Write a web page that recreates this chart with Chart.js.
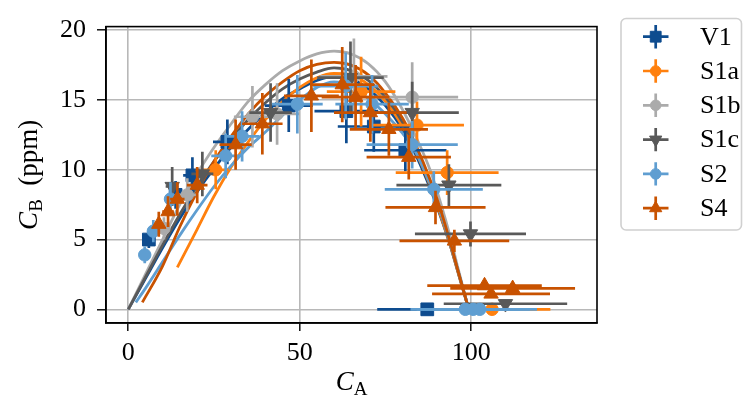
<!DOCTYPE html>
<html>
<head>
<meta charset="utf-8">
<script src="https://cdn.jsdelivr.net/npm/chart.js@4.4.0/dist/chart.umd.min.js"></script>
<style>
  html, body { margin: 0; padding: 0; background: #fff; }
</style>
</head>
<body>
<canvas id="chart" width="744" height="403"></canvas>
<script>
// measured points: C_A, C_B and their error half-widths
const v1X = [6.0, 13.8, 18.7, 28.9, 46.8, 63.6, 71.6, 80.8, 87.2];
const v1Y = [5.0, 8.2, 9.6, 12.0, 14.6, 14.2, 13.1, 11.4, 0.0];
const v1Xerr = [0.9, 2.0, 2.7, 4.2, 7.0, 9.3, 10.5, 12.0, 14.6];
const v1Yerr = [0.6, 1.0, 1.3, 1.6, 1.9, 2.3, 1.8, 1.5, 0.0];

const s1aX = [25.5, 67.9, 84.2, 93.0, 106.1];
const s1aY = [10.0, 15.6, 13.2, 9.8, 0.0];
const s1aXerr = [3.8, 10.0, 13.7, 15.0, 17.0];
const s1aYerr = [1.4, 2.5, 1.7, 1.6, 0.0];

const s1bX = [10.4, 17.2, 36.2, 43.4, 65.8, 82.8];
const s1bY = [5.8, 8.2, 13.8, 14.0, 16.7, 15.2];
const s1bXerr = [1.6, 2.6, 5.4, 6.5, 9.8, 13.4];
const s1bYerr = [0.8, 1.2, 2.2, 2.2, 2.7, 2.5];

const s1cX = [12.8, 21.6, 41.5, 64.8, 82.8, 93.5, 99.8, 110.0];
const s1cY = [8.8, 9.7, 14.1, 16.6, 14.1, 8.9, 5.4, 0.4];
const s1cXerr = [1.9, 3.2, 6.2, 9.7, 13.6, 15.3, 16.2, 18.0];
const s1cYerr = [1.4, 1.6, 2.1, 2.6, 2.2, 1.5, 0.9, 0.2];

const s2X = [4.8, 7.3, 12.3, 28.4, 33.2, 49.3, 63.4, 71.1, 82.8, 89.1, 98.3, 100.6, 102.5];
const s2Y = [3.9, 5.6, 7.9, 11.0, 12.4, 14.7, 16.0, 14.7, 11.8, 8.6, 0.0, 0.0, 0.0];
const s2Xerr = [0.7, 1.1, 1.8, 4.2, 5.0, 7.4, 9.5, 10.7, 13.3, 14.3, 16.0, 16.5, 16.7];
const s2Yerr = [0.6, 0.8, 1.2, 1.6, 1.8, 2.1, 2.4, 2.1, 1.7, 1.3, 0.0, 0.0, 0.0];

const s4X = [8.9, 11.6, 14.3, 20.1, 31.3, 39.1, 53.4, 62.4, 66.3, 70.6, 76.0, 81.8, 89.6, 95.1, 103.9, 105.8, 112.1];
const s4Y = [6.1, 7.0, 7.9, 8.9, 11.8, 13.3, 15.3, 16.1, 15.2, 14.1, 12.9, 10.9, 7.3, 4.9, 1.7, 1.1, 1.5];
const s4Xerr = [1.3, 1.7, 2.1, 3.0, 4.7, 5.9, 8.0, 9.4, 9.9, 10.6, 11.4, 12.3, 14.6, 16.0, 16.7, 17.2, 18.2];
const s4Yerr = [0.9, 1.1, 1.2, 1.3, 1.8, 2.2, 2.6, 2.7, 2.3, 2.1, 1.9, 1.6, 1.2, 0.8, 0.3, 0.2, 0.3];

// fitted model curves
const v1CurveX = [0, 5, 10, 15, 20, 25, 30, 35, 40, 45, 50, 55, 60, 65, 70, 75, 80, 84, 88, 91, 94, 96, 99.3];
const v1CurveY = [0, 2.2, 4.4, 6.5, 8.4, 10.1, 11.6, 12.9, 14.1, 15.1, 15.8, 16.4, 16.7, 16.5, 15.8, 14.6, 12.9, 11.0, 8.7, 6.7, 4.5, 2.8, 0];
const s1aCurveX = [14.3, 20, 25, 30, 35, 40, 45, 50, 55, 60, 65, 70, 75, 80, 84, 88, 91, 94, 96, 99.3];
const s1aCurveY = [3.0, 5.7, 8.1, 10.2, 12.0, 13.6, 14.9, 15.9, 16.6, 16.9, 16.8, 16.1, 14.9, 13.1, 11.2, 8.9, 6.8, 4.5, 2.8, 0];
const s1bCurveX = [0, 5, 10, 15, 20, 25, 30, 35, 40, 45, 50, 55, 60, 65, 70, 75, 80, 84, 88, 91, 94, 96, 99.3];
const s1bCurveY = [0, 2.5, 5.0, 7.5, 9.7, 11.6, 13.3, 14.9, 16.1, 17.1, 17.8, 18.3, 18.5, 18.3, 17.6, 16.3, 14.3, 12.3, 10.0, 7.7, 5.1, 3.1, 0];
const s1cCurveX = [0, 5, 10, 15, 20, 25, 30, 35, 40, 45, 50, 55, 60, 65, 70, 75, 80, 84, 88, 91, 94, 96, 99.3];
const s1cCurveY = [0, 2.3, 4.6, 6.8, 8.8, 10.6, 12.2, 13.6, 14.8, 15.8, 16.5, 17.0, 17.3, 17.1, 16.4, 15.2, 13.4, 11.4, 9.1, 7.0, 4.6, 2.9, 0];
const s2CurveX = [2.2, 5, 10, 15, 20, 25, 30, 35, 40, 45, 50, 55, 60, 65, 70, 75, 80, 84, 88, 91, 94, 96, 99.3];
const s2CurveY = [0.5, 1.5, 3.4, 5.3, 7.1, 8.8, 10.3, 11.6, 12.7, 13.9, 15.0, 15.9, 16.3, 16.0, 15.1, 14.0, 12.6, 11.2, 9.0, 7.0, 4.6, 2.9, 0];
const s4CurveX = [4.1, 10, 15, 20, 25, 30, 35, 40, 45, 50, 55, 60, 65, 70, 75, 80, 84, 88, 91, 94, 96, 99.3];
const s4CurveY = [0.5, 3.1, 5.9, 8.4, 10.6, 12.4, 14.0, 15.3, 16.3, 17.1, 17.55, 17.7, 17.5, 16.8, 15.5, 13.7, 11.7, 9.3, 7.2, 4.7, 2.9, 0];

const xTicks = [0, 50, 100];
const yTicks = [0, 5, 10, 15, 20];

const FONT = "'Liberation Serif', 'DejaVu Serif', serif";

const series = [
  { label: 'V1',  color: '#0e4c8f', style: 'rect',     radius: 9,   rot: 0,   x: v1X,  y: v1Y,  xe: v1Xerr,  ye: v1Yerr,  cx: v1CurveX,  cy: v1CurveY },
  { label: 'S1a', color: '#ff800e', style: 'circle',   radius: 6.2, rot: 0,   x: s1aX, y: s1aY, xe: s1aXerr, ye: s1aYerr, cx: s1aCurveX, cy: s1aCurveY },
  { label: 'S1b', color: '#ababab', style: 'circle',   radius: 6.2, rot: 0,   x: s1bX, y: s1bY, xe: s1bXerr, ye: s1bYerr, cx: s1bCurveX, cy: s1bCurveY },
  { label: 'S1c', color: '#595959', style: 'triangle', radius: 8.3, rot: 180, x: s1cX, y: s1cY, xe: s1cXerr, ye: s1cYerr, cx: s1cCurveX, cy: s1cCurveY },
  { label: 'S2',  color: '#5f9ed1', style: 'circle',   radius: 6.2, rot: 0,   x: s2X,  y: s2Y,  xe: s2Xerr,  ye: s2Yerr,  cx: s2CurveX,  cy: s2CurveY },
  { label: 'S4',  color: '#c85200', style: 'triangle', radius: 8.3, rot: 0,   x: s4X,  y: s4Y,  xe: s4Xerr,  ye: s4Yerr,  cx: s4CurveX,  cy: s4CurveY },
];

const datasets = [];
series.forEach((s, i) => {
  // curves go underneath the markers
  datasets.push({
    label: s.label + ' fit',
    data: s.cx.map((v, k) => ({ x: v, y: s.cy[k] })),
    showLine: true,
    borderColor: s.color,
    borderWidth: 2.8,
    pointRadius: 0,
    cubicInterpolationMode: 'monotone',
    order: 20 - i,
  });
});
series.forEach((s, i) => {
  datasets.push({
    label: s.label,
    data: s.x.map((v, k) => ({ x: v, y: s.y[k] })),
    errX: s.xe,
    errY: s.ye,
    pointStyle: s.style,
    rotation: s.rot,
    pointRadius: s.radius,
    pointHoverRadius: s.radius,
    backgroundColor: s.color,
    borderColor: s.color,
    borderWidth: 1,
    showLine: false,
    order: 10 - i,
  });
});

const errorBars = {
  id: 'errorBars',
  beforeDatasetDraw(chart, args) {
    const ds = chart.data.datasets[args.index];
    if (!ds.errX) return;
    const { ctx, chartArea, scales } = chart;
    ctx.save();
    ctx.beginPath();
    ctx.rect(chartArea.left, chartArea.top, chartArea.width, chartArea.height);
    ctx.clip();
    ctx.strokeStyle = ds.borderColor;
    ctx.lineWidth = 2.7;
    ds.data.forEach((p, k) => {
      const px = scales.x.getPixelForValue(p.x);
      const py = scales.y.getPixelForValue(p.y);
      ctx.beginPath();
      ctx.moveTo(scales.x.getPixelForValue(p.x - ds.errX[k]), py);
      ctx.lineTo(scales.x.getPixelForValue(p.x + ds.errX[k]), py);
      if (ds.errY[k] > 0) {
        ctx.moveTo(px, scales.y.getPixelForValue(p.y - ds.errY[k]));
        ctx.lineTo(px, scales.y.getPixelForValue(p.y + ds.errY[k]));
      }
      ctx.stroke();
    });
    ctx.restore();
  },
};

function measure(ctx, main, sub) {
  ctx.font = 'italic 27px ' + FONT;
  const w1 = ctx.measureText(main).width;
  ctx.font = '19px ' + FONT;
  const w2 = ctx.measureText(sub).width;
  return { w1, w2 };
}

const frameAndText = {
  id: 'frameAndText',
  afterDraw(chart) {
    const { ctx, chartArea } = chart;
    ctx.save();
    // full axes frame
    ctx.strokeStyle = '#000';
    ctx.lineWidth = 1.6;
    ctx.strokeRect(chartArea.left, chartArea.top, chartArea.width, chartArea.height);

    ctx.fillStyle = '#000';
    ctx.textBaseline = 'alphabetic';
    // x title: C_A
    let m = measure(ctx, 'C', 'A');
    let x0 = (chartArea.left + chartArea.right) / 2 - (m.w1 + m.w2) / 2;
    ctx.font = 'italic 27px ' + FONT;
    ctx.fillText('C', x0, 390);
    ctx.font = '19px ' + FONT;
    ctx.fillText('A', x0 + m.w1, 395);

    // y title: C_B (ppm)
    ctx.translate(37, (chartArea.top + chartArea.bottom) / 2);
    ctx.rotate(-Math.PI / 2);
    ctx.font = '27px ' + FONT;
    const rest = '  (ppm)';
    const w3 = ctx.measureText(rest).width;
    m = measure(ctx, 'C', 'B');
    x0 = -(m.w1 + m.w2 + w3) / 2;
    ctx.font = 'italic 27px ' + FONT;
    ctx.fillText('C', x0, 0);
    ctx.font = '19px ' + FONT;
    ctx.fillText('B', x0 + m.w1, 5);
    ctx.font = '27px ' + FONT;
    ctx.fillText(rest, x0 + m.w1 + m.w2, 0);
    ctx.restore();

    // legend
    ctx.save();
    const bx = 621, by = 18.5, bw = 120.5, bh = 211.5;
    ctx.beginPath();
    ctx.roundRect(bx, by, bw, bh, 5);
    ctx.fillStyle = 'rgba(255,255,255,0.8)';
    ctx.fill();
    ctx.strokeStyle = '#d0d0d0';
    ctx.lineWidth = 1.6;
    ctx.stroke();
    series.forEach((s, i) => {
      const cy = 36.7 + i * 34.3;
      const cx = 655.7;
      ctx.strokeStyle = s.color;
      ctx.lineWidth = 2.7;
      ctx.beginPath();
      ctx.moveTo(643, cy); ctx.lineTo(668.5, cy);
      ctx.moveTo(cx, cy - 11.7); ctx.lineTo(cx, cy + 11.7);
      ctx.stroke();
      ctx.fillStyle = s.color;
      ctx.lineWidth = 1;
      Chart.helpers.drawPoint(ctx, { pointStyle: s.style, rotation: s.rot, radius: s.radius * 0.85, borderWidth: 1 }, cx, cy);
      ctx.fillStyle = '#000';
      ctx.font = '26px ' + FONT;
      ctx.textBaseline = 'middle';
      ctx.fillText(s.label, 700, cy + 1);
    });
    ctx.restore();
  },
};

new Chart(document.getElementById('chart'), {
  type: 'scatter',
  data: { datasets },
  options: {
    responsive: false,
    animation: false,
    events: [],
    layout: { padding: { top: 19, right: 147, left: 0, bottom: 0 } },
    plugins: {
      legend: { display: false },
      tooltip: { enabled: false },
    },
    scales: {
      x: {
        type: 'linear',
        min: -6.5,
        max: 136.7,
        afterFit(scale) { scale.height = 80; },
        afterBuildTicks(scale) { scale.ticks = xTicks.map(v => ({ value: v })); },
        ticks: {
          includeBounds: false,
          color: '#000',
          padding: 7,
          maxRotation: 0,
          font: { family: FONT, size: 26 },
        },
        grid: { color: '#b8b8b8', lineWidth: 1.6, tickColor: '#000', tickLength: 8, tickWidth: 1.4 },
        border: { color: '#000', width: 1.6 },
      },
      y: {
        type: 'linear',
        min: -0.98,
        max: 20.26,
        afterFit(scale) { scale.width = 106; },
        afterBuildTicks(scale) { scale.ticks = yTicks.map(v => ({ value: v })); },
        ticks: {
          includeBounds: false,
          color: '#000',
          padding: 11,
          font: { family: FONT, size: 26 },
        },
        grid: { color: '#b8b8b8', lineWidth: 1.6, tickColor: '#000', tickLength: 9, tickWidth: 1.4 },
        border: { color: '#000', width: 1.6 },
      },
    },
  },
  plugins: [errorBars, frameAndText],
});
</script>
</body>
</html>
